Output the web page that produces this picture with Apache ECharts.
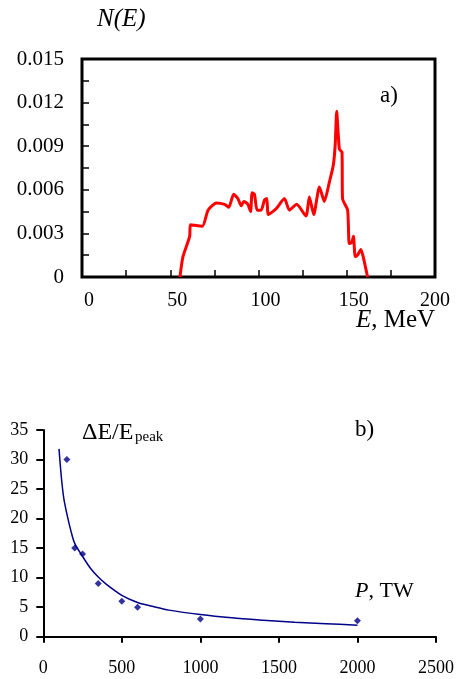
<!DOCTYPE html>
<html>
<head>
<meta charset="utf-8">
<script src="https://cdn.jsdelivr.net/npm/echarts@6/dist/echarts.min.js"></script>
<style>
html,body{margin:0;padding:0;background:#fff;}
#chart{width:457px;height:679px;}
</style>
</head>
<body>
<div id="chart"></div>
<script>
// Panel a) electron spectrum
var energy = [55.5, 57.2, 61.0, 61.4, 68.2, 71.4, 76.1, 80.8, 83.2, 85.9, 88.3, 90.2, 91.7, 94.0, 95.5, 96.4, 97.7, 99.2, 101.5, 103.4, 104.7, 105.6, 110.0, 114.7, 117.5, 121.6, 126.9, 128.8, 131.3, 134.5, 137.3, 140.1, 142.4, 143.5, 144.3, 145.8, 147.3, 147.6, 150.5, 151.4, 152.9, 153.8, 154.8, 156.1, 158.0, 159.3, 161.8];
var counts = [0, 0.0014, 0.0028, 0.0036, 0.0035, 0.0046, 0.0051, 0.0050, 0.0048, 0.0057, 0.0054, 0.0049, 0.0052, 0.0050, 0.0045, 0.0058, 0.0057, 0.0046, 0.0046, 0.0053, 0.0054, 0.0043, 0.0047, 0.0054, 0.0046, 0.0050, 0.0042, 0.0055, 0.0043, 0.0062, 0.0052, 0.0065, 0.0077, 0.0092, 0.0114, 0.0088, 0.0086, 0.0054, 0.0046, 0.0023, 0.0024, 0.0028, 0.0014, 0.0015, 0.0019, 0.0014, 0];
var xTicksA = [0, 50, 100, 150, 200];
var yTicksA = ['0', '0.003', '0.006', '0.009', '0.012', '0.015'];

// Panel b) energy spread vs power
var power = [150, 200, 250, 350, 500, 600, 1000, 2000];
var spread = [30, 15, 14, 9, 6, 5, 3, 2.7];
var trendP = [100, 115, 130, 150, 175, 200, 250, 300, 350, 400, 500, 600, 700, 800, 1000, 1200, 1400, 1600, 1800, 2000];
var trendY = [31.8, 27, 23.5, 20.8, 18, 15.8, 13.6, 11.6, 10.1, 8.9, 7.0, 5.8, 5.1, 4.5, 3.75, 3.2, 2.8, 2.45, 2.2, 1.95];
var xTicksB = [0, 500, 1000, 1500, 2000, 2500];
var yTicksB = [0, 5, 10, 15, 20, 25, 30, 35];

var FONT = 'Liberation Serif';
var chart = echarts.init(document.getElementById('chart'), null, {renderer: 'canvas'});

function zip(a, b) { return a.map(function (v, i) { return [v, b[i]]; }); }

chart.setOption({
  animation: false,
  backgroundColor: '#fff',
  textStyle: {fontFamily: FONT, color: '#000'},
  grid: [
    {left: 82, top: 59, width: 353, height: 218, show: true, borderColor: '#000', borderWidth: 3, backgroundColor: 'transparent'},
    {left: 43.3, top: 430, width: 393.4, height: 206.7}
  ],
  xAxis: [
    {
      gridIndex: 0, type: 'value', min: xTicksA[0], max: xTicksA[xTicksA.length - 1], interval: 50,
      axisLine: {show: false},
      axisTick: {show: true, inside: true, length: 7, lineStyle: {color: '#000', width: 1.5}},
      minorTick: {show: true, splitNumber: 2, length: 7, lineStyle: {color: '#000', width: 1.5}},
      splitLine: {show: false},
      axisLabel: {
        margin: 14, fontFamily: FONT, fontSize: 20, color: '#000',
        formatter: function (v) { return v === 200 ? '{n|' + v + '}' : '{s|' + v + '}'; },
        rich: {s: {fontFamily: FONT, fontSize: 20, padding: [0, 0, 0, 14]}, n: {fontFamily: FONT, fontSize: 20}}
      }
    },
    {
      gridIndex: 1, type: 'value', min: xTicksB[0], max: xTicksB[xTicksB.length - 1], interval: 500,
      axisLine: {show: true, onZero: false, lineStyle: {color: '#000', width: 2}},
      axisTick: {show: true, inside: false, length: 6, lineStyle: {color: '#000', width: 2}},
      splitLine: {show: false},
      axisLabel: {margin: 23, fontFamily: FONT, fontSize: 18, color: '#000', formatter: function (v) { return String(v); }}
    }
  ],
  yAxis: [
    {
      gridIndex: 0, type: 'value', min: 0, max: 0.015, interval: 0.003,
      axisLine: {show: false},
      axisTick: {show: true, inside: true, length: 7, lineStyle: {color: '#000', width: 1.5}},
      minorTick: {show: true, splitNumber: 2, length: 7, lineStyle: {color: '#000', width: 1.5}},
      splitLine: {show: false},
      axisLabel: {
        margin: 18, fontFamily: FONT, fontSize: 21, color: '#000',
        formatter: function (v) { return yTicksA[Math.round(v / 0.003)]; }
      }
    },
    {
      gridIndex: 1, type: 'value', min: yTicksB[0], max: yTicksB[yTicksB.length - 1], interval: 5,
      axisLine: {show: true, lineStyle: {color: '#000', width: 2}},
      axisTick: {show: true, inside: false, length: 7, lineStyle: {color: '#000', width: 2}},
      splitLine: {show: false},
      axisLabel: {margin: 15, fontFamily: FONT, fontSize: 18, color: '#000', formatter: function (v) { return String(v); }}
    }
  ],
  series: [
    {
      type: 'line', xAxisIndex: 0, yAxisIndex: 0, data: zip(energy, counts),
      showSymbol: false, smooth: 0.2, lineStyle: {color: '#ff0000', width: 3}, z: 3
    },
    {
      type: 'line', xAxisIndex: 1, yAxisIndex: 1, data: zip(trendP, trendY),
      showSymbol: false, smooth: 0.3, lineStyle: {color: '#000088', width: 1.5}
    },
    {
      type: 'scatter', xAxisIndex: 1, yAxisIndex: 1, data: zip(power, spread),
      symbol: 'diamond', symbolSize: 7, itemStyle: {color: '#000088'}
    }
  ],
  graphic: [
    {type: 'text', position: [97, 7], style: {text: 'N(E)', font: 'italic 25px "Liberation Serif"', fill: '#000'}},
    {type: 'text', position: [380, 84], style: {text: 'a)', font: '23px "Liberation Serif"', fill: '#000'}},
    {type: 'text', position: [356, 308], style: {
      text: '{i|E}{r|, MeV}', fill: '#000',
      rich: {i: {fontFamily: FONT, fontStyle: 'italic', fontSize: 25}, r: {fontFamily: FONT, fontSize: 25}}
    }},
    {type: 'text', position: [82, 421], style: {text: 'ΔE/E', font: '24px "Liberation Serif"', fill: '#000'}},
    {type: 'text', position: [135, 430], style: {text: 'peak', font: '15px "Liberation Serif"', fill: '#000'}},
    {type: 'text', position: [355, 418], style: {text: 'b)', font: '23px "Liberation Serif"', fill: '#000'}},
    {type: 'text', position: [355, 580], style: {
      text: '{i|P}{r|, TW}', fill: '#000',
      rich: {i: {fontFamily: FONT, fontStyle: 'italic', fontSize: 22}, r: {fontFamily: FONT, fontSize: 22}}
    }}
  ]
});
</script>
</body>
</html>
